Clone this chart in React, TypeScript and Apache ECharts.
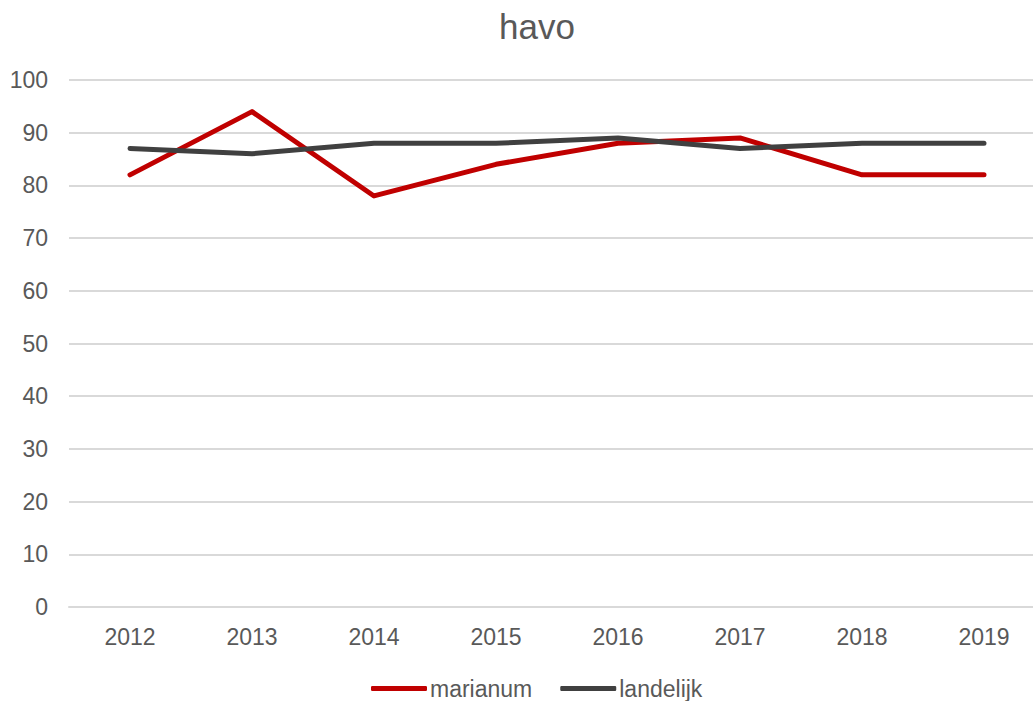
import React, { useEffect, useRef } from "react";
import * as echarts from "echarts";

const categories = ["2012", "2013", "2014", "2015", "2016", "2017", "2018", "2019"];
const marianum = [82, 94, 78, 84, 88, 89, 82, 82];
const landelijk = [87, 86, 88, 88, 89, 87, 88, 88];

export default function App() {
  const ref = useRef<HTMLDivElement>(null);
  useEffect(() => {
    const prevOverflow = document.body.style.overflow;
    document.body.style.overflow = "hidden";
    const chart = echarts.init(ref.current!, null, { renderer: "svg" });
    const font = "Liberation Sans, Arial, sans-serif";
    chart.setOption({
      animation: false,
      backgroundColor: "#ffffff",
      title: {
        text: "havo",
        left: 494,
        top: 4,
        textStyle: { fontFamily: font, fontSize: 35, fontWeight: "normal", color: "#595959" },
      },
      grid: { left: 69, right: 0, top: 80, bottom: 94, containLabel: false },
      legend: {
        left: 366,
        top: 672,
        icon: "roundRect",
        itemWidth: 56,
        itemHeight: 5,
        itemGap: 28,
        textStyle: { fontFamily: font, fontSize: 23, color: "#595959", padding: [0, 0, 0, -2] },
        data: ["marianum", "landelijk"],
      },
      xAxis: {
        type: "category",
        data: categories,
        boundaryGap: true,
        axisLine: { show: true, lineStyle: { color: "#d9d9d9", width: 2 } },
        axisTick: { show: false },
        axisLabel: { fontFamily: font, fontSize: 23, color: "#595959", margin: 18 },
      },
      yAxis: {
        type: "value",
        min: 0,
        max: 100,
        interval: 10,
        axisLine: { show: false },
        axisTick: { show: false },
        axisLabel: { fontFamily: font, fontSize: 23, color: "#595959", margin: 21 },
        splitLine: { lineStyle: { color: "#d9d9d9", width: 2 } },
      },
      series: [
        {
          name: "marianum",
          type: "line",
          data: marianum,
          symbol: "none",
          itemStyle: { color: "#c00000" },
          lineStyle: { color: "#c00000", width: 5, cap: "round", join: "round" },
        },
        {
          name: "landelijk",
          type: "line",
          data: landelijk,
          symbol: "none",
          itemStyle: { color: "#404040" },
          lineStyle: { color: "#404040", width: 5, cap: "round", join: "round" },
        },
      ],
    });
    return () => {
      chart.dispose();
      document.body.style.overflow = prevOverflow;
    };
  }, []);
  return (
    <div
      ref={ref}
      style={{ position: "absolute", left: 0, top: 0, width: 1045, height: 701 }}
    />
  );
}
